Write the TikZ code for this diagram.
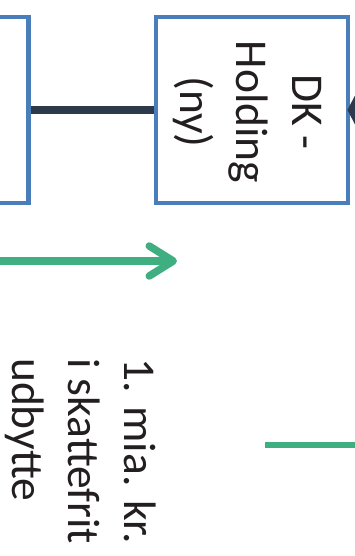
\documentclass[tikz,border=0pt]{standalone}
\usepackage{fontspec}
\setmainfont{Carlito}
\usetikzlibrary{arrows.meta}
\definecolor{boxblue}{HTML}{4A7EBB}
\definecolor{linkdark}{HTML}{2D3A4B}
\definecolor{flowgreen}{HTML}{3FAE80}
\definecolor{inkblack}{HTML}{231F20}
\tikzset{
  entity/.style={draw=boxblue, line width=4.5pt, fill=white, inner sep=0pt},
  ownership/.style={draw=linkdark, fill=linkdark, line width=7.5pt},
  flow/.style={draw=flowgreen, line width=7.5pt},
  vlabel/.style={rotate=-90, inner sep=0pt, text=inkblack,
    font=\fontsize{45.5}{56}\selectfont},
}
\begin{document}
\begin{tikzpicture}[x=1pt,y=1pt]
  \useasboundingbox (0,0) rectangle (355,-556);
  % companies
  \node[entity, minimum width=100, minimum height=185.5] (parent) at (-21.5,-110) {};
  \node[entity, minimum width=192, minimum height=185.5] (hold) at (252.2,-110) {};
  \node[vlabel, align=center] (holdtxt) at (247,-112) {DK -\\Holding\\(ny)};
  % ownership links
  \draw[ownership] (parent.east) -- (hold.west);
  \coordinate (above) at (420,-110);
  \draw[ownership, -{Triangle[length=10pt,width=38pt]}, shorten >=-3pt] (above) -- (hold.east);
  % dividend flow
  \coordinate (flowstart) at (-5,-261);
  \coordinate (flowend) at (177,-261);
  \draw[flow, -{Straight Barb[length=24pt,width=30pt,round]}] (flowstart) -- (flowend);
  \node[vlabel, align=left, anchor=north west] (divtxt) at (156,-358)
    {1. mia. kr.\\i skattefrit\\udbytte};
  \coordinate (sidea) at (265,-445);
  \coordinate (sideb) at (365,-445);
  \draw[flow, line width=6.5pt] (sidea) -- (sideb);
\end{tikzpicture}
\end{document}
